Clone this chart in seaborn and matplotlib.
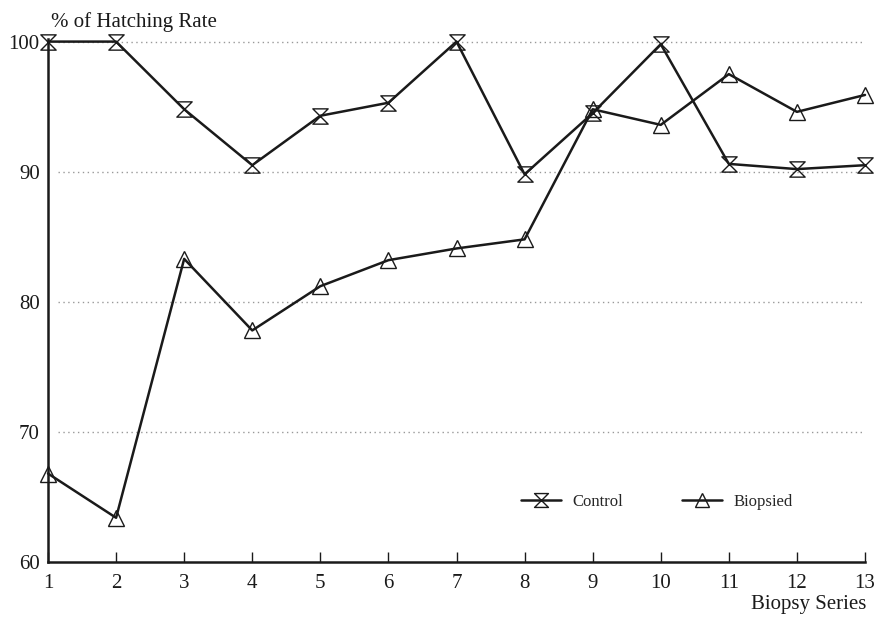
import pandas as pd
import numpy as np
from matplotlib import pyplot as plt
from matplotlib.path import Path
from matplotlib.lines import Line2D
import seaborn as sns

series = list(range(1, 14))
control = [100.0, 100.0, 94.8, 90.5, 94.3, 95.3, 100.0, 89.8, 94.5, 99.8, 90.6, 90.2, 90.5]
biopsied = [66.8, 63.4, 83.3, 77.8, 81.2, 83.2, 84.1, 84.8, 94.8, 93.6, 97.5, 94.6, 95.9]
y_ticks = [60, 70, 80, 90, 100]

sns.set_theme(style="white")
plt.rcParams['font.family'] = ['Liberation Serif', 'DejaVu Serif']

df = pd.DataFrame({
    "series": series * 2,
    "rate": control + biopsied,
    "group": ["Control"] * len(series) + ["Biopsied"] * len(series),
})

# hourglass marker for control
hourglass = Path([(-1, 1), (1, 1), (-1, -1), (1, -1), (-1, 1)],
                 [Path.MOVETO, Path.LINETO, Path.LINETO, Path.LINETO, Path.CLOSEPOLY])

ink = "#1a1a1a"
fig = plt.figure(figsize=(8.77, 6.2), dpi=100)
ax = fig.add_axes([48 / 877, 1 - 562 / 620, (865 - 48) / 877, (562 - 39) / 620])

sns.lineplot(data=df, x="series", y="rate", hue="group", style="group",
             palette={"Control": ink, "Biopsied": ink},
             markers={"Control": hourglass, "Biopsied": "^"},
             dashes=False, linewidth=1.8, markersize=11,
             markerfacecolor="none", markeredgecolor=ink, markeredgewidth=1.0,
             clip_on=False, ax=ax, legend=False)

ax.set_xlim(1, 13)
ax.set_ylim(60, 100.2)
ax.set_xticks(series)
ax.set_yticks(y_ticks)
ax.set_xlabel("")
ax.set_ylabel("")
for y in y_ticks[1:]:
    ax.axhline(y, xmin=0.012, color="#999999", linestyle=(0, (1, 2.5)), linewidth=1.0, zorder=0)

for s in ["top", "right"]:
    ax.spines[s].set_visible(False)
for s in ["left", "bottom"]:
    ax.spines[s].set_color(ink)
    ax.spines[s].set_linewidth(1.8)

ax.tick_params(axis="x", direction="in", length=7, width=1, colors=ink,
               labelsize=15, pad=9, bottom=True)
ax.tick_params(axis="y", length=0, labelsize=15, pad=6, colors=ink)

fig.text(51 / 877, 1 - 22 / 620, "% of Hatching Rate", fontsize=15, ha="left", va="center", color=ink)
fig.text(866 / 877, 1 - 605 / 620, "Biopsy Series", fontsize=15, ha="right", va="center", color=ink)

handles = [
    Line2D([], [], color=ink, linewidth=1.8, marker=hourglass, markersize=10,
           markerfacecolor="none", markeredgecolor=ink),
    Line2D([], [], color=ink, linewidth=1.8, marker="^", markersize=10,
           markerfacecolor="none", markeredgecolor=ink),
]
fig.legend(handles, ["Control", "Biopsied"], loc="center", ncol=2, frameon=False,
           bbox_to_anchor=(657 / 877, 1 - 502 / 620), fontsize=12,
           handlelength=2.4, columnspacing=3.5, handletextpad=0.7)

fig.savefig("out.png", dpi=100)
